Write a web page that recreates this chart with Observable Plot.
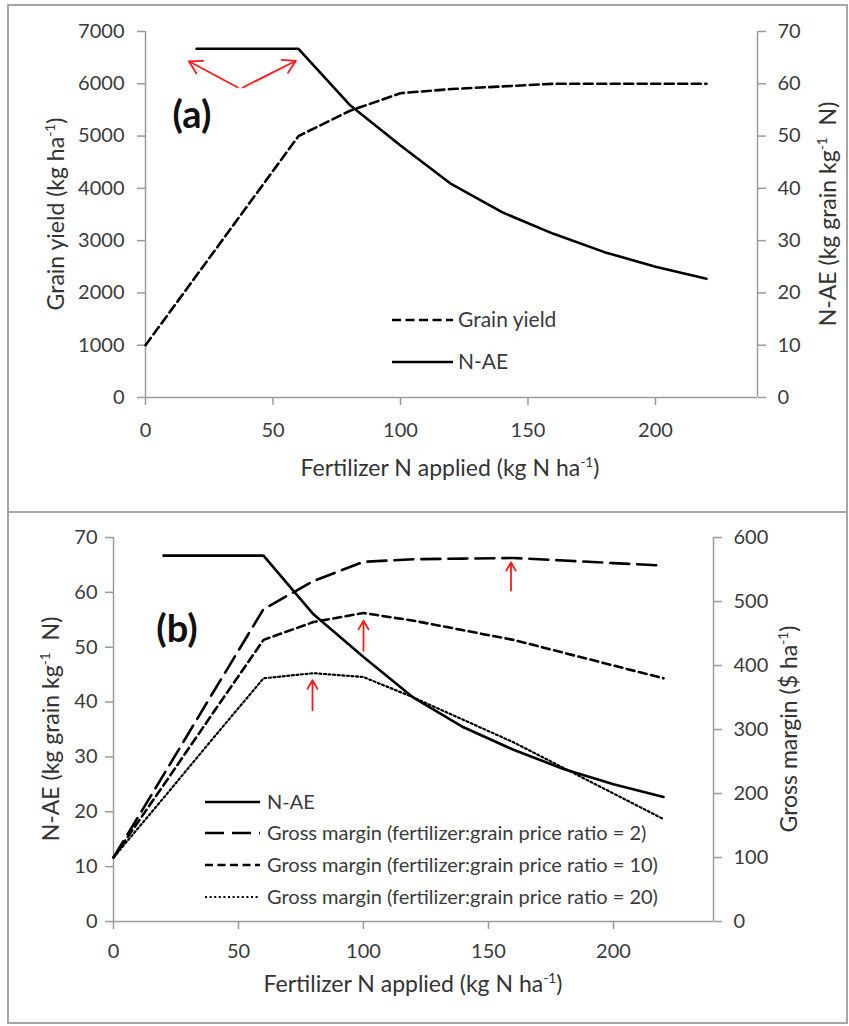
<!DOCTYPE html>
<html><head><meta charset="utf-8">
<script src="https://cdn.jsdelivr.net/npm/d3@7"></script>
<script src="https://cdn.jsdelivr.net/npm/@observablehq/plot@0.6"></script>
<style>
body{margin:0;background:#fff;font-family:Lato,"Open Sans",sans-serif;color:#404040}
#page{position:relative;width:849px;height:1026px;overflow:hidden;background:#fff}
.box{position:absolute;border:2px solid #a6a6a6;box-sizing:border-box}
.plot{position:absolute;left:0}
.title{position:absolute;white-space:nowrap;font-size:23px;color:#333;transform:translate(-50%,-50%);line-height:1}
.rot{transform:translate(-50%,-50%) rotate(-90deg)}
.title sup{font-size:60%;line-height:0;vertical-align:0.6em}
.tag{position:absolute;font-weight:bold;font-size:38px;color:#111;transform:translate(-50%,-50%);line-height:1}
#legend{position:absolute;left:0;top:0;pointer-events:none}
</style></head>
<body><div id="page">
<div class="box" style="left:7px;top:4px;width:841px;height:509px"></div>
<div class="box" style="left:7px;top:511px;width:841px;height:513px"></div>
</div>
<script>
// ---------- data ----------
const nApplied = [0,20,40,60,80,100,120,140,160,180,200,220];
const grainYield = [1000,2333,3667,5000,5480,5820,5900,5950,6000,6000,6000,6000];
const naeN = [20,40,60,80,100,120,140,160,180,200,220];
const naeValues = [66.7,66.7,66.7,56.0,48.2,40.8,35.4,31.3,27.8,25.0,22.7];
const gmRatio2 = [100,229,359,488,532,562,566,567,568,564,560,556];
const gmRatio10 = [100,213,327,440,468,482,470,455,440,420,400,380];
const gmRatio20 = [100,193,287,380,388,382,350,315,280,240,200,160];

const xTicks = [0,50,100,150,200];
const yieldTicks = [0,1000,2000,3000,4000,5000,6000,7000];
const naeTicks = [0,10,20,30,40,50,60,70];
const gmTicks = [0,100,200,300,400,500,600];

// annotation arrows (panel a: yield units; panel b: gross-margin units)
const arrowAx1 = [36.2,38.2], arrowAy1 = [5930,5930], arrowAx2 = [17,59], arrowAy2 = [6430,6440];
const arrowBx = [79.6,100,159], arrowBy1 = [330,423,517], arrowBy2 = [377,470,561];

const legendA = ["Grain yield","N-AE"];
const legendB = ["N-AE","Gross margin (fertilizer:grain price ratio = 2)","Gross margin (fertilizer:grain price ratio = 10)","Gross margin (fertilizer:grain price ratio = 20)"];

// ---------- helpers ----------
const AX = "#9a9a9a", TX = "#3a3a3a";
const page = document.getElementById("page");
const style = {background:"transparent", fontFamily:"Lato, 'Open Sans', sans-serif", fontSize:"20px", overflow:"visible"};

// ---------- panel (a) ----------
const kA = 7000/70;
const yieldData = nApplied.map((x,i)=>({x, y:grainYield[i]}));
const naeData = naeN.map((x,i)=>({x, v:naeValues[i]}));
const arrowsA = arrowAx1.map((_,i)=>({x1:arrowAx1[i],y1:arrowAy1[i],x2:arrowAx2[i],y2:arrowAy2[i]}));

const plotA = Plot.plot({
  width:849, height:510,
  marginLeft:145, marginRight:92, marginTop:31, marginBottom:113,
  x:{domain:[0,240]}, y:{domain:[0,7000]},
  style,
  marks:[
    Plot.ruleY([0],{stroke:AX,strokeWidth:1.5}),
    Plot.ruleX([0,240],{stroke:AX,strokeWidth:1.5}),
    Plot.axisX({ticks:xTicks, tickSize:8, tickPadding:17, label:null, stroke:AX, fill:TX, strokeWidth:1.5}),
    Plot.axisY({ticks:yieldTicks, tickSize:8, tickPadding:13, label:null, tickFormat:d=>String(d), stroke:AX, fill:TX, strokeWidth:1.5}),
    Plot.axisY({anchor:"right", ticks:naeTicks.map(v=>v*kA), tickSize:8, tickPadding:12, label:null, tickFormat:d=>String(Math.round(d/kA)), stroke:AX, fill:TX, strokeWidth:1.5}),
    Plot.line(yieldData,{x:"x", y:"y", stroke:"#000", strokeWidth:2.6, strokeDasharray:"9,4.5"}),
    Plot.line(naeData,{x:"x", y:d=>d.v*kA, stroke:"#000", strokeWidth:2.6}),
    Plot.arrow(arrowsA,{x1:"x1",y1:"y1",x2:"x2",y2:"y2", stroke:"#ff1a1a", strokeWidth:1.8, headLength:12})
  ]
});
plotA.classList.add("plot"); plotA.style.top = "0px";
page.appendChild(plotA);

// ---------- panel (b) ----------
const kB = 70/600;
const gmSeries = [gmRatio2, gmRatio10, gmRatio20];
const gmDash = ["19,8","8,4.5","2,2.6"];
const gmWidth = [2.6,2.6,2.2];
const arrowsB = arrowBx.map((x,i)=>({x, y1:arrowBy1[i]*kB, y2:arrowBy2[i]*kB}));

const plotB = Plot.plot({
  width:849, height:514,
  marginLeft:113, marginRight:136, marginTop:25, marginBottom:105,
  x:{domain:[0,240]}, y:{domain:[0,70]},
  style,
  marks:[
    Plot.ruleY([0],{stroke:AX,strokeWidth:1.5}),
    Plot.ruleX([0,240],{stroke:AX,strokeWidth:1.5}),
    Plot.axisX({ticks:xTicks, tickSize:8, tickPadding:14, label:null, stroke:AX, fill:TX, strokeWidth:1.5}),
    Plot.axisY({ticks:naeTicks, tickSize:8, tickPadding:8, label:null, stroke:AX, fill:TX, strokeWidth:1.5}),
    Plot.axisY({anchor:"right", ticks:gmTicks.map(v=>v*kB), tickSize:8, tickPadding:12, label:null, tickFormat:d=>String(Math.round(d/kB)), stroke:AX, fill:TX, strokeWidth:1.5}),
    Plot.line(naeData,{x:"x", y:"v", stroke:"#000", strokeWidth:2.6}),
    ...gmSeries.map((s,j)=>Plot.line(nApplied.map((x,i)=>({x, g:s[i]})),{x:"x", y:d=>d.g*kB, stroke:"#000", strokeWidth:gmWidth[j], strokeDasharray:gmDash[j]})),
    Plot.arrow(arrowsB,{x1:"x",x2:"x",y1:"y1",y2:"y2", stroke:"#ff1a1a", strokeWidth:1.8, headLength:12})
  ]
});
plotB.classList.add("plot"); plotB.style.top = "512px";
page.appendChild(plotB);

// ---------- titles ----------
function addTitle(html, x, y, rot){
  const d = document.createElement("div");
  d.className = "title" + (rot ? " rot" : "");
  d.style.left = x+"px"; d.style.top = y+"px";
  d.innerHTML = html; page.appendChild(d);
}
function addTag(t, x, y){
  const d = document.createElement("div"); d.className="tag";
  d.style.left=x+"px"; d.style.top=y+"px"; d.textContent=t; page.appendChild(d);
}
addTitle("Grain yield (kg ha<sup>-1</sup>)", 55, 214, true);
addTitle("N-AE (kg grain kg<sup>-1</sup>&nbsp; N)", 827, 214, true);
addTitle("Fertilizer N applied (kg N ha<sup>-1</sup>)", 450, 467, false);
addTitle("N-AE (kg grain kg<sup>-1</sup>&nbsp; N)", 50, 729, true);
addTitle("Gross margin ($ ha<sup>-1</sup>)", 788, 729, true);
addTitle("Fertilizer N applied (kg N ha<sup>-1</sup>)", 413, 983, false);
addTag("(a)", 192, 113);
addTag("(b)", 177, 627);

// ---------- legends ----------
const svg = d3.select(page).append("svg").attr("id","legend").attr("width",849).attr("height",1026)
  .style("font-family","Lato, 'Open Sans', sans-serif");
const legA = [{dash:"9,4.5", w:2.6},{dash:null, w:2.6}];
const legAy = [320,362];
legendA.forEach((t,i)=>{
  svg.append("line").attr("x1",392).attr("x2",453).attr("y1",legAy[i]).attr("y2",legAy[i])
    .attr("stroke","#000").attr("stroke-width",legA[i].w).attr("stroke-dasharray",legA[i].dash);
  svg.append("text").attr("x",458).attr("y",legAy[i]).attr("dy","0.35em").attr("font-size",21).attr("fill",TX).text(t);
});
const legB = [{dash:null,w:2.6},{dash:gmDash[0],w:2.6},{dash:gmDash[1],w:2.6},{dash:gmDash[2],w:2.2}];
const legBy = [802,833,865,897];
legendB.forEach((t,i)=>{
  svg.append("line").attr("x1",205).attr("x2",260).attr("y1",legBy[i]).attr("y2",legBy[i])
    .attr("stroke","#000").attr("stroke-width",legB[i].w).attr("stroke-dasharray",legB[i].dash);
  svg.append("text").attr("x",267).attr("y",legBy[i]).attr("dy","0.35em").attr("font-size",20).attr("fill",TX).text(t);
});
</script>
</body></html>
